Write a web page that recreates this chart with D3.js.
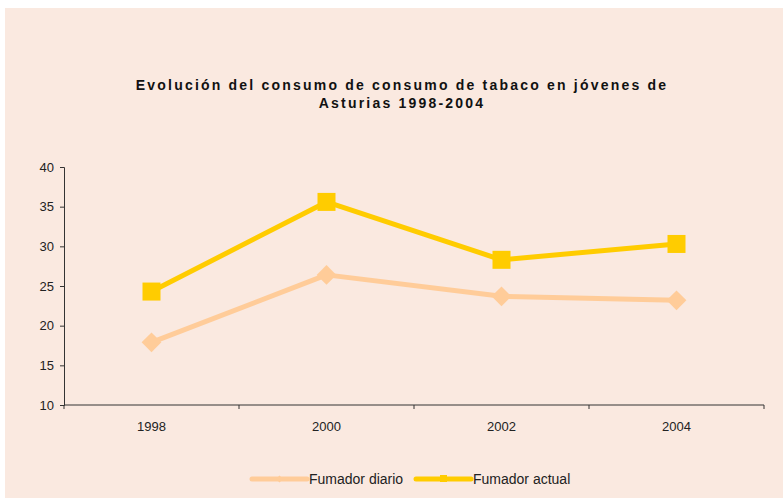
<!DOCTYPE html>
<html>
<head>
<meta charset="utf-8">
<script src="https://cdn.jsdelivr.net/npm/d3@7"></script>
<style>
  body { margin: 0; background: #fff; }
  svg { display: block; font-family: "Liberation Sans", Arial, sans-serif; }
</style>
</head>
<body>
<div class="div-chart"></div>
<script>
// chart data
const years = ['1998', '2000', '2002', '2004'];
const fumadorDiario = [17.9, 26.4, 23.7, 23.2];
const fumadorActual = [24.3, 35.6, 28.3, 30.3];
const yTicks = [10, 15, 20, 25, 30, 35, 40];
const titleLines = ['Evolución del consumo de consumo de tabaco en jóvenes de', 'Asturias 1998-2004'];

const width = 783, height = 498;

const svg = d3.select('.div-chart')
    .append('svg')
    .attr('width', width)
    .attr('height', height);

// pink chart area
svg.append('rect')
    .attr('x', 5).attr('y', 8)
    .attr('width', width - 5).attr('height', height - 8)
    .attr('fill', '#FAE9E0');

// title
svg.append('text')
    .attr('text-anchor', 'middle')
    .attr('font-size', 14)
    .attr('font-weight', 'bold')
    .attr('letter-spacing', 2.2)
    .attr('fill', '#111')
    .selectAll('tspan')
    .data(titleLines)
    .enter().append('tspan')
    .attr('x', 402)
    .attr('y', (d, i) => 90 + i * 18)
    .text(d => d);

const margin = { left: 64, top: 167, right: 19, bottom: 93 };
const innerWidth = width - margin.left - margin.right;
const innerHeight = height - margin.top - margin.bottom;

const g = svg.append('g')
    .attr('transform', `translate(${margin.left},${margin.top})`);

const xScale = d3.scaleBand()
    .domain(years)
    .range([0, innerWidth]);

const yScale = d3.scaleLinear()
    .domain([10, 40])
    .range([innerHeight, 0]);

// x axis: ticks at band edges, labels at centres
const xAxis = g.append('g')
    .attr('transform', `translate(0,${innerHeight})`);
xAxis.append('line')
    .attr('x1', 0).attr('x2', innerWidth)
    .attr('stroke', '#333');
xAxis.selectAll('.edge')
    .data(years.concat(['end']))
    .enter().append('line')
    .attr('class', 'edge')
    .attr('x1', (d, i) => i * xScale.step())
    .attr('x2', (d, i) => i * xScale.step())
    .attr('y1', 0).attr('y2', 4)
    .attr('stroke', '#333');
xAxis.selectAll('.xl')
    .data(years)
    .enter().append('text')
    .attr('class', 'xl')
    .attr('x', d => xScale(d) + xScale.bandwidth() / 2)
    .attr('y', 26)
    .attr('text-anchor', 'middle')
    .attr('font-size', 13)
    .attr('fill', '#222')
    .text(d => d);

// y axis
const yAxis = g.append('g')
    .call(d3.axisLeft(yScale).tickValues(yTicks).tickSize(4).tickPadding(6));
yAxis.select('.domain').attr('stroke', '#333');
yAxis.selectAll('.tick line').attr('stroke', '#333');
yAxis.selectAll('text')
    .attr('font-size', 13)
    .attr('font-family', '"Liberation Sans", Arial, sans-serif')
    .attr('fill', '#222');

const cx = d => xScale(d) + xScale.bandwidth() / 2;

const series = [
    { name: 'Fumador diario', values: fumadorDiario, color: '#FFCC99' },
    { name: 'Fumador actual', values: fumadorActual, color: '#FFCC00' }
];

const line = d3.line()
    .x((d, i) => cx(years[i]))
    .y(d => yScale(d));

series.forEach(s => {
    g.append('path')
        .datum(s.values)
        .attr('fill', 'none')
        .attr('stroke', s.color)
        .attr('stroke-width', 5)
        .attr('stroke-linejoin', 'round')
        .attr('d', line);
});

// markers
g.selectAll('.diam')
    .data(fumadorDiario)
    .enter().append('rect')
    .attr('class', 'diam')
    .attr('x', -7).attr('y', -7)
    .attr('width', 14).attr('height', 14)
    .attr('transform', (d, i) => `translate(${cx(years[i])},${yScale(d)}) rotate(45)`)
    .attr('fill', '#FFCC99');

g.selectAll('.sq')
    .data(fumadorActual)
    .enter().append('rect')
    .attr('class', 'sq')
    .attr('x', (d, i) => cx(years[i]) - 9)
    .attr('y', d => yScale(d) - 9)
    .attr('width', 18).attr('height', 18)
    .attr('fill', '#FFCC00');

// legend
const legendX = [252, 416];
const leg = svg.append('g');
series.forEach((s, i) => {
    const lg = leg.append('g').attr('transform', `translate(${legendX[i]},479)`);
    lg.append('line')
        .attr('x1', 0).attr('x2', 55)
        .attr('stroke', s.color)
        .attr('stroke-width', 5)
        .attr('stroke-linecap', 'round');
    if (i === 0) {
        lg.append('rect')
            .attr('x', -2.5).attr('y', -2.5).attr('width', 5).attr('height', 5)
            .attr('transform', 'translate(27.5,0) rotate(45)')
            .attr('fill', s.color);
    } else {
        lg.append('rect')
            .attr('x', 24).attr('y', -4).attr('width', 7).attr('height', 7)
            .attr('fill', s.color);
    }
    lg.append('text')
        .attr('x', 57)
        .attr('y', 5)
        .attr('font-size', 14)
        .attr('fill', '#222')
        .text(s.name);
});
</script>
</body>
</html>
